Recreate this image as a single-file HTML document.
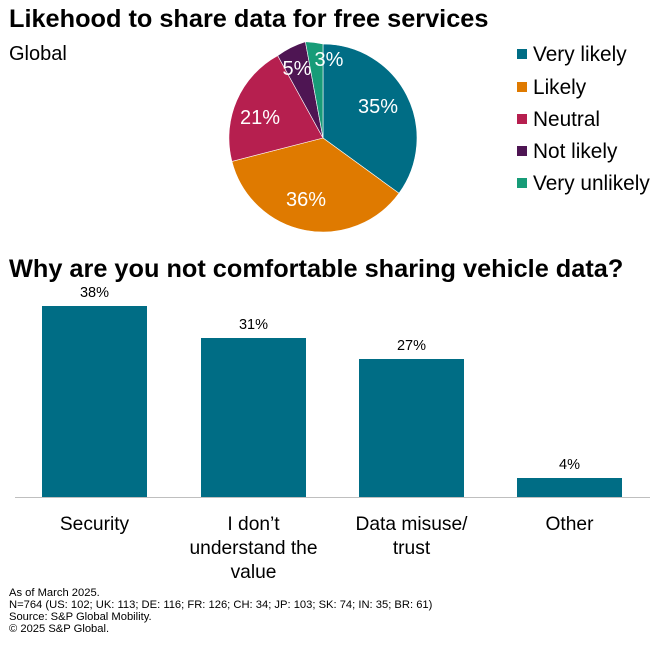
<!DOCTYPE html>
<html><head><meta charset="utf-8"><style>
body{margin:0;background:#fff;}
svg text{font-family:"Liberation Sans",Arial,sans-serif;}
</style></head><body>
<svg width="669" height="641" xmlns="http://www.w3.org/2000/svg">
<text x="9" y="27" font-size="25.3" font-weight="bold" fill="#000">Likehood to share data for free services</text>
<text x="9" y="60" font-size="20" fill="#000">Global</text>
<g stroke="#fff" stroke-width="0.6">
<path d="M323,138 L323,44 A94,94 0 0 1 399,193.3 Z" fill="#006d85"/>
<path d="M323,138 L399,193.3 A94,94 0 0 1 231.9,161.4 Z" fill="#df7a00"/>
<path d="M323,138 L231.9,161.4 A94,94 0 0 1 277.7,55.6 Z" fill="#b61f4f"/>
<path d="M323,138 L277.7,55.6 A94,94 0 0 1 305.4,41.7 Z" fill="#4e1553"/>
<path d="M323,138 L305.4,41.7 A94,94 0 0 1 323,44 Z" fill="#179c78"/>
</g>
<g fill="#fff" font-size="20" text-anchor="middle">
<text x="378" y="113">35%</text>
<text x="306" y="206">36%</text>
<text x="260" y="124">21%</text>
<text x="297" y="75">5%</text>
<text x="329" y="66">3%</text>
</g>
<g font-size="20.8" fill="#000">
<rect x="517" y="49" width="10" height="10" fill="#006d85"/><text x="533" y="61">Very likely</text>
<rect x="517" y="82" width="10" height="10" fill="#df7a00"/><text x="533" y="94">Likely</text>
<rect x="517" y="114" width="10" height="10" fill="#b61f4f"/><text x="533" y="126">Neutral</text>
<rect x="517" y="146" width="10" height="10" fill="#4e1553"/><text x="533" y="158">Not likely</text>
<rect x="517" y="178" width="10" height="10" fill="#179c78"/><text x="533" y="190">Very unlikely</text>
</g>
<text x="9" y="277" font-size="25.3" font-weight="bold" fill="#000">Why are you not comfortable sharing vehicle data?</text>
<g fill="#006d85">
<rect x="42" y="306" width="105" height="191"/>
<rect x="201" y="338" width="105" height="159"/>
<rect x="359" y="359" width="105" height="138"/>
<rect x="517" y="478" width="105" height="19"/>
</g>
<line x1="15" y1="497.5" x2="650" y2="497.5" stroke="#bfbfbf" stroke-width="1"/>
<g font-size="14.5" fill="#000" text-anchor="middle">
<text x="94.5" y="297">38%</text>
<text x="253.5" y="329">31%</text>
<text x="411.5" y="350">27%</text>
<text x="569.5" y="469">4%</text>
</g>
<g font-size="19.2" fill="#000" text-anchor="middle">
<text x="94.5" y="530">Security</text>
<text x="253.5" y="530">I don’t</text>
<text x="253.5" y="554">understand the</text>
<text x="253.5" y="578">value</text>
<text x="411.5" y="530">Data misuse/</text>
<text x="411.5" y="554">trust</text>
<text x="569.5" y="530">Other</text>
</g>
<g font-size="11.2" fill="#000">
<text x="9" y="596">As of March 2025.</text>
<text x="9" y="608">N=764 (US: 102; UK: 113; DE: 116; FR: 126; CH: 34; JP: 103; SK: 74; IN: 35; BR: 61)</text>
<text x="9" y="620">Source: S&amp;P Global Mobility.</text>
<text x="9" y="632">© 2025 S&amp;P Global.</text>
</g>
</svg>
</body></html>
